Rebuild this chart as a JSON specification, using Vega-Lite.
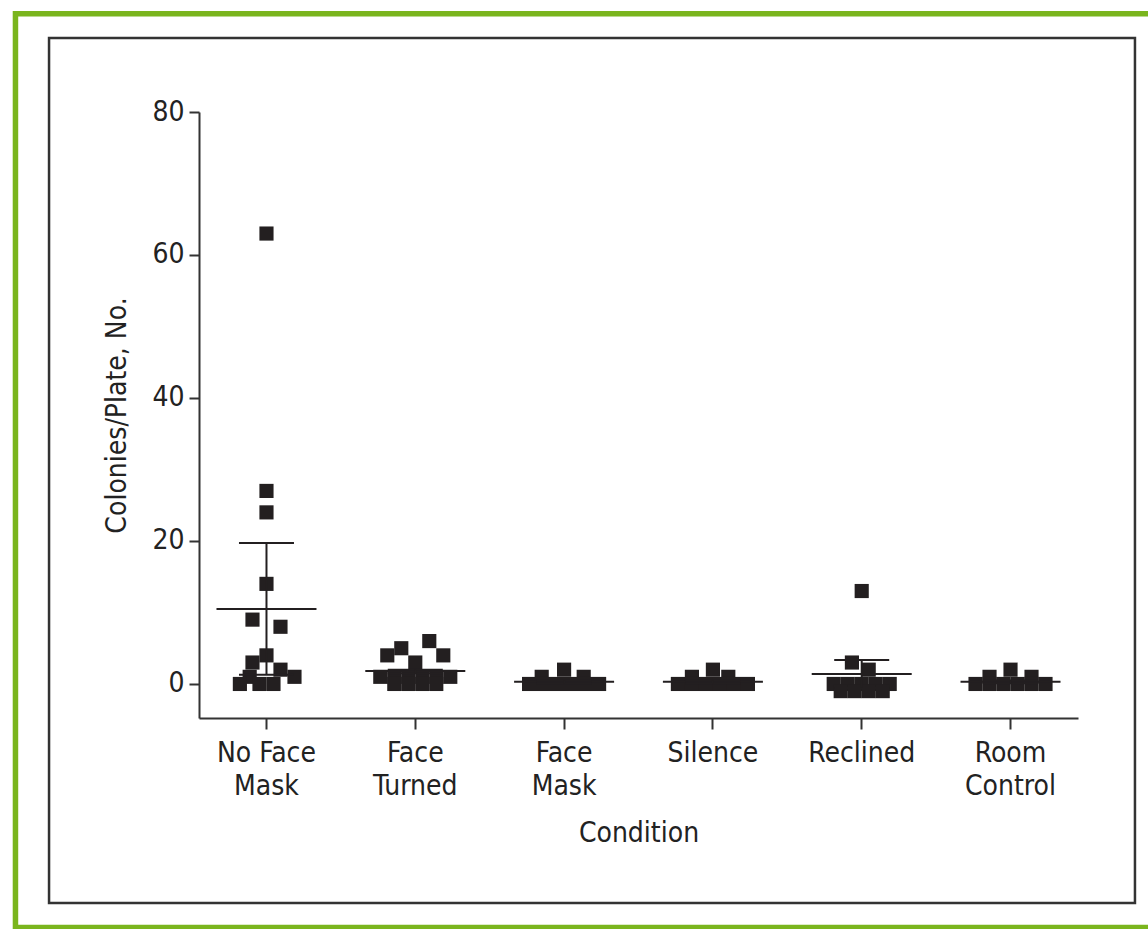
{
  "$schema": "https://vega.github.io/schema/vega-lite/v6.json",
  "autosize": {"type": "none"},
  "width": 879,
  "height": 606,
  "padding": {"left": 199, "top": 112, "right": 70, "bottom": 211},
  "background": "white",
  "config": {
    "view": {"stroke": null},
    "font": "Liberation Sans Narrow, DejaVu Sans Condensed, Roboto Condensed, sans-serif",
    "axis": {
      "domainColor": "#333333",
      "domainWidth": 2,
      "tickColor": "#333333",
      "tickWidth": 2,
      "labelColor": "#222222",
      "titleColor": "#222222",
      "labelFontSize": 28,
      "titleFontSize": 28,
      "titleFontWeight": "normal",
      "grid": false
    }
  },
  "datasets": {
    "points": [
      {"condition": "No Face Mask", "colonies": 63, "col": 0},
      {"condition": "No Face Mask", "colonies": 27, "col": 0},
      {"condition": "No Face Mask", "colonies": 24, "col": 0},
      {"condition": "No Face Mask", "colonies": 14, "col": 0},
      {"condition": "No Face Mask", "colonies": 9, "col": -1},
      {"condition": "No Face Mask", "colonies": 8, "col": 1},
      {"condition": "No Face Mask", "colonies": 4, "col": 0},
      {"condition": "No Face Mask", "colonies": 3, "col": -1},
      {"condition": "No Face Mask", "colonies": 2, "col": 1},
      {"condition": "No Face Mask", "colonies": 1, "col": -1.2},
      {"condition": "No Face Mask", "colonies": 1, "col": 2},
      {"condition": "No Face Mask", "colonies": 0, "col": -1.9},
      {"condition": "No Face Mask", "colonies": 0, "col": -0.5},
      {"condition": "No Face Mask", "colonies": 0, "col": 0.5},
      {"condition": "Face Turned", "colonies": 6, "col": 1},
      {"condition": "Face Turned", "colonies": 5, "col": -1},
      {"condition": "Face Turned", "colonies": 4, "col": -2},
      {"condition": "Face Turned", "colonies": 4, "col": 2},
      {"condition": "Face Turned", "colonies": 3, "col": 0},
      {"condition": "Face Turned", "colonies": 1, "col": -2.5},
      {"condition": "Face Turned", "colonies": 1, "col": -1.5},
      {"condition": "Face Turned", "colonies": 1, "col": -0.5},
      {"condition": "Face Turned", "colonies": 1, "col": 0.5},
      {"condition": "Face Turned", "colonies": 1, "col": 1.5},
      {"condition": "Face Turned", "colonies": 1, "col": 2.5},
      {"condition": "Face Turned", "colonies": 0, "col": -1.5},
      {"condition": "Face Turned", "colonies": 0, "col": -0.5},
      {"condition": "Face Turned", "colonies": 0, "col": 0.5},
      {"condition": "Face Turned", "colonies": 0, "col": 1.5},
      {"condition": "Face Mask", "colonies": 2, "col": 0},
      {"condition": "Face Mask", "colonies": 1, "col": -1.6},
      {"condition": "Face Mask", "colonies": 1, "col": 1.4},
      {"condition": "Face Mask", "colonies": 0, "col": -2.5},
      {"condition": "Face Mask", "colonies": 0, "col": -1.5},
      {"condition": "Face Mask", "colonies": 0, "col": -0.5},
      {"condition": "Face Mask", "colonies": 0, "col": 0.5},
      {"condition": "Face Mask", "colonies": 0, "col": 1.5},
      {"condition": "Face Mask", "colonies": 0, "col": 2.5},
      {"condition": "Silence", "colonies": 2, "col": 0},
      {"condition": "Silence", "colonies": 1, "col": -1.5},
      {"condition": "Silence", "colonies": 1, "col": 1.1},
      {"condition": "Silence", "colonies": 0, "col": -2.5},
      {"condition": "Silence", "colonies": 0, "col": -1.5},
      {"condition": "Silence", "colonies": 0, "col": -0.5},
      {"condition": "Silence", "colonies": 0, "col": 0.5},
      {"condition": "Silence", "colonies": 0, "col": 1.5},
      {"condition": "Silence", "colonies": 0, "col": 2.5},
      {"condition": "Reclined", "colonies": 13, "col": 0},
      {"condition": "Reclined", "colonies": 3, "col": -0.7},
      {"condition": "Reclined", "colonies": 2, "col": 0.5},
      {"condition": "Reclined", "colonies": 0, "col": -2},
      {"condition": "Reclined", "colonies": 0, "col": -1},
      {"condition": "Reclined", "colonies": 0, "col": 0},
      {"condition": "Reclined", "colonies": 0, "col": 1},
      {"condition": "Reclined", "colonies": 0, "col": 2},
      {"condition": "Reclined", "colonies": -1, "col": -1.5},
      {"condition": "Reclined", "colonies": -1, "col": -0.5},
      {"condition": "Reclined", "colonies": -1, "col": 0.5},
      {"condition": "Reclined", "colonies": -1, "col": 1.5},
      {"condition": "Room Control", "colonies": 2, "col": 0},
      {"condition": "Room Control", "colonies": 1, "col": -1.5},
      {"condition": "Room Control", "colonies": 1, "col": 1.5},
      {"condition": "Room Control", "colonies": 0, "col": -2.5},
      {"condition": "Room Control", "colonies": 0, "col": -1.5},
      {"condition": "Room Control", "colonies": 0, "col": -0.5},
      {"condition": "Room Control", "colonies": 0, "col": 0.5},
      {"condition": "Room Control", "colonies": 0, "col": 1.5},
      {"condition": "Room Control", "colonies": 0, "col": 2.5}
    ],
    "summary": [
      {"condition": "No Face Mask", "mean": 10.5, "lo": 1.3, "hi": 19.7},
      {"condition": "Face Turned", "mean": 1.8, "lo": 1.5, "hi": 2.0},
      {"condition": "Face Mask", "mean": 0.3, "lo": 0.1, "hi": 0.5},
      {"condition": "Silence", "mean": 0.3, "lo": 0.1, "hi": 0.5},
      {"condition": "Reclined", "mean": 1.4, "lo": -0.55, "hi": 3.35},
      {"condition": "Room Control", "mean": 0.3, "lo": 0.1, "hi": 0.5}
    ],
    "frames": [
      {"frame": "outer", "x0": -0.2088, "x1": 1.09, "y0": 93.75, "y1": -34.06},
      {"frame": "inner", "x0": -0.1706, "x1": 1.0648, "y0": 90.35, "y1": -30.63}
    ]
  },
  "layer": [
    {
      "data": {"name": "frames"},
      "mark": {"type": "rect", "fill": null, "clip": false},
      "encoding": {
        "x": {"field": "x0", "type": "quantitative", "scale": {"domain": [0, 1], "nice": false, "zero": false}, "axis": null},
        "x2": {"field": "x1"},
        "y": {"field": "y0", "type": "quantitative", "scale": {"domain": [-4.76, 80], "nice": false, "zero": false}},
        "y2": {"field": "y1"},
        "stroke": {"field": "frame", "type": "nominal", "scale": {"domain": ["outer", "inner"], "range": ["#7ab51d", "#333333"]}, "legend": null},
        "strokeWidth": {"field": "frame", "type": "nominal", "scale": {"domain": ["outer", "inner"], "range": [5.5, 2.5]}, "legend": null}
      }
    },
    {
      "layer": [
        {
          "data": {"name": "points"},
          "mark": {"type": "square", "filled": true, "size": 200, "color": "#231f20", "opacity": 1},
          "encoding": {
            "x": {"field": "condition", "type": "nominal", "sort": null},
            "xOffset": {"field": "col", "type": "quantitative", "scale": {"domain": [-5, 5], "range": [-32.8, 107.2]}},
            "y": {"field": "colonies", "type": "quantitative"}
          }
        },
        {
          "data": {"name": "summary"},
          "mark": {"type": "tick", "orient": "horizontal", "size": 100, "thickness": 2, "color": "#231f20", "opacity": 1},
          "encoding": {
            "x": {"field": "condition", "type": "nominal", "sort": null},
            "y": {"field": "mean", "type": "quantitative"}
          }
        },
        {
          "data": {"name": "summary"},
          "mark": {"type": "tick", "orient": "horizontal", "size": 55, "thickness": 2, "color": "#231f20", "opacity": 1},
          "encoding": {
            "x": {"field": "condition", "type": "nominal", "sort": null},
            "y": {"field": "hi", "type": "quantitative"}
          }
        },
        {
          "data": {"name": "summary"},
          "mark": {"type": "tick", "orient": "horizontal", "size": 55, "thickness": 2, "color": "#231f20", "opacity": 1},
          "encoding": {
            "x": {"field": "condition", "type": "nominal", "sort": null},
            "y": {"field": "lo", "type": "quantitative"}
          }
        },
        {
          "data": {"name": "summary"},
          "mark": {"type": "rule", "strokeWidth": 2, "color": "#231f20"},
          "encoding": {
            "x": {"field": "condition", "type": "nominal", "sort": null},
            "y": {"field": "lo", "type": "quantitative"},
            "y2": {"field": "hi"}
          }
        }
      ],
      "encoding": {
        "x": {
          "field": "condition", "type": "nominal", "sort": null,
          "scale": {"type": "band", "domain": ["No Face Mask", "Face Turned", "Face Mask", "Silence", "Reclined", "Room Control"], "paddingInner": 0.5, "paddingOuter": 0.2035},
          "axis": {
            "title": "Condition",
            "labelAngle": 0,
            "tickSize": 11,
            "labelPadding": 10,
            "labelLineHeight": 33,
            "labelBaseline": "top",
            "titlePadding": 19,
            "labelExpr": "datum.label == 'No Face Mask' ? ['No Face', 'Mask'] : split(datum.label, ' ')"
          }
        },
        "y": {
          "type": "quantitative",
          "scale": {"domain": [-4.76, 80], "nice": false, "zero": false},
          "axis": {"title": "Colonies/Plate, No.", "values": [0, 20, 40, 60, 80], "tickSize": 10, "labelPadding": 5, "titlePadding": 20}
        }
      }
    }
  ],
  "resolve": {"scale": {"x": "independent", "stroke": "independent"}}
}
